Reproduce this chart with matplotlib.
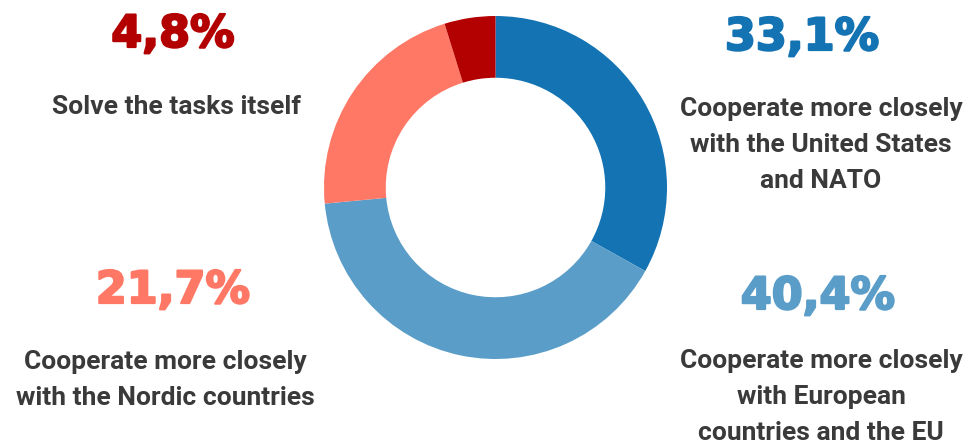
import matplotlib
matplotlib.use("Agg")
import matplotlib.pyplot as plt
import matplotlib.patheffects as pe

W, H = 973, 448
categories = ["Cooperate more closely\nwith the United States\nand NATO",
              "Cooperate more closely\nwith European\ncountries and the EU",
              "Cooperate more closely\nwith the Nordic countries",
              "Solve the tasks itself"]
values = [33.1, 40.4, 21.7, 4.8]
value_labels = ["33,1%", "40,4%", "21,7%", "4,8%"]
colors = ["#1473b3", "#5a9dc8", "#ff7866", "#b30000"]

label_font = "Roboto"
pct_font = "DejaVu Sans"

fig = plt.figure(figsize=(W / 100, H / 100), dpi=100)
fig.patch.set_facecolor("white")

cx, cy, r = 495.5, 187.5, 171.5
ax = fig.add_axes([(cx - r) / W, (H - cy - r) / H, 2 * r / W, 2 * r / H])
ax.pie(values, colors=colors, startangle=90, counterclock=False, radius=1,
       wedgeprops=dict(width=0.36, edgecolor="none"))
ax.set_xlim(-1, 1)
ax.set_ylim(-1, 1)
ax.axis("off")

# label positions (pixel coords from top-left); percent y = baseline
pct_pos = [(802, 50), (818, 309), (173, 303), (173, 47)]
lab_pos = [(821, 145), (821, 397), (165, 380), (176, 107)]

for i in range(len(values)):
    px, py = pct_pos[i]
    fig.text(px / W, 1 - py / H, value_labels[i], ha="center", va="baseline",
             fontsize=32, fontweight="bold", family=pct_font, color=colors[i],
             path_effects=[pe.withStroke(linewidth=1.6, foreground=colors[i])])
    lx, ly = lab_pos[i]
    fig.text(lx / W, 1 - ly / H, categories[i], ha="center", va="center",
             fontsize=19, fontweight="bold", family=label_font, color="#3a3a3a",
             linespacing=1.62)

fig.savefig("out.png", dpi=100, facecolor="white")
